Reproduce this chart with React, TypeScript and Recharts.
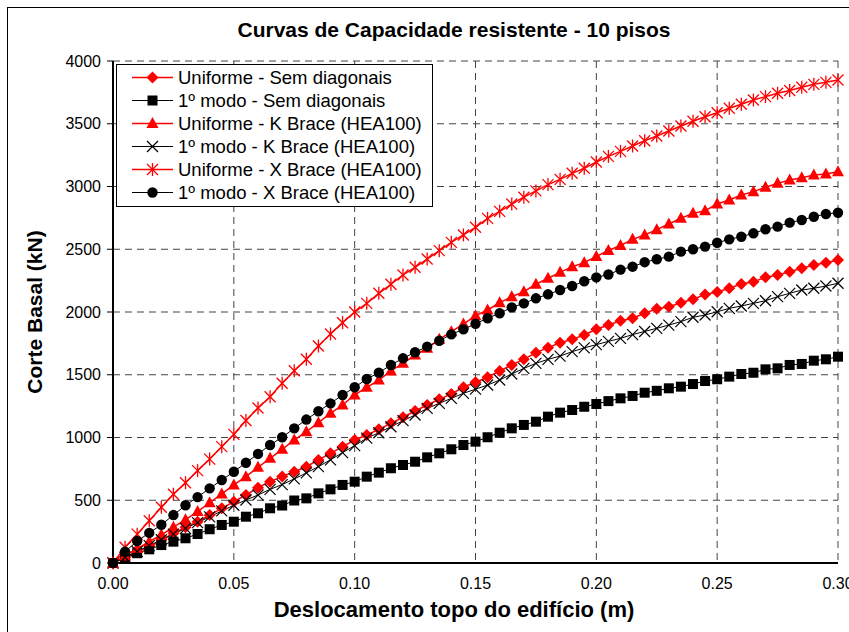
import React from "react";
import {
  LineChart,
  Line,
  XAxis,
  YAxis,
  CartesianGrid,
} from "recharts";

// deslocamento do topo (m)
const deslocamento = [
  0.0, 0.005, 0.01, 0.015, 0.02, 0.025, 0.03, 0.035, 0.04, 0.045, 0.05,
  0.055, 0.06, 0.065, 0.07, 0.075, 0.08, 0.085, 0.09, 0.095, 0.1,
  0.105, 0.11, 0.115, 0.12, 0.125, 0.13, 0.135, 0.14, 0.145, 0.15,
  0.155, 0.16, 0.165, 0.17, 0.175, 0.18, 0.185, 0.19, 0.195, 0.2,
  0.205, 0.21, 0.215, 0.22, 0.225, 0.23, 0.235, 0.24, 0.245, 0.25,
  0.255, 0.26, 0.265, 0.27, 0.275, 0.28, 0.285, 0.29, 0.295, 0.3,
];

// corte basal (kN)
const uniformeSem = [
  0, 45, 90, 130, 183, 237, 284, 329, 382, 436, 489,
  542, 600, 648, 690, 727, 767, 821, 874, 927, 980,
  1020, 1065, 1113, 1161, 1211, 1259, 1304, 1347, 1400, 1440,
  1480, 1530, 1578, 1623, 1676, 1716, 1755, 1782, 1817, 1862,
  1896, 1930, 1950, 1990, 2025, 2042, 2074, 2101, 2140, 2160,
  2189, 2223, 2241, 2276, 2295, 2321, 2348, 2374, 2393, 2414,
];
const modoSem = [
  0, 40, 78, 109, 143, 170, 197, 231, 269, 303, 329,
  369, 396, 436, 458, 498, 515, 555, 587, 622, 648,
  688, 720, 755, 781, 807, 842, 874, 906, 940, 967,
  1002, 1038, 1073, 1100, 1126, 1166, 1198, 1219, 1245, 1267,
  1290, 1312, 1331, 1357, 1372, 1392, 1405, 1426, 1450, 1464,
  1485, 1506, 1516, 1543, 1551, 1578, 1586, 1612, 1623, 1644,
];
const uniformeK = [
  0, 55, 115, 170, 225, 285, 345, 410, 480, 550, 622,
  688, 762, 834, 906, 980, 1046, 1118, 1193, 1259, 1339,
  1400, 1458, 1530, 1591, 1657, 1711, 1782, 1843, 1904, 1970,
  2016, 2074, 2122, 2162, 2221, 2269, 2316, 2361, 2393, 2443,
  2490, 2530, 2579, 2614, 2656, 2701, 2747, 2786, 2807, 2861,
  2892, 2932, 2959, 2994, 3025, 3052, 3070, 3092, 3100, 3118,
];
const modoK = [
  0, 46, 92, 138, 185, 230, 276, 322, 368, 415, 460,
  502, 542, 587, 625, 670, 718, 768, 822, 880, 935,
  995, 1038, 1086, 1134, 1179, 1232, 1272, 1312, 1352, 1385,
  1418, 1458, 1506, 1551, 1591, 1623, 1649, 1684, 1714, 1740,
  1766, 1790, 1820, 1845, 1870, 1896, 1923, 1958, 1976, 2002,
  2029, 2048, 2069, 2090, 2122, 2149, 2175, 2189, 2207, 2229,
];
const uniformeX = [
  0, 125, 230, 337, 444, 548, 640, 736, 828, 927, 1025,
  1135, 1235, 1325, 1432, 1532, 1623, 1729, 1825, 1915, 2000,
  2069, 2149, 2221, 2295, 2356, 2422, 2489, 2555, 2614, 2675,
  2746, 2802, 2860, 2915, 2965, 3015, 3057, 3105, 3145, 3195,
  3240, 3280, 3323, 3365, 3402, 3442, 3482, 3520, 3556, 3588,
  3623, 3655, 3689, 3716, 3743, 3765, 3791, 3814, 3830, 3849,
];
const modoX = [
  0, 90, 175, 240, 305, 382, 460, 525, 595, 661, 727,
  799, 869, 940, 1002, 1073, 1143, 1209, 1272, 1339, 1400,
  1466, 1516, 1578, 1631, 1679, 1724, 1771, 1822, 1862, 1906,
  1950, 1990, 2037, 2069, 2109, 2141, 2175, 2207, 2245, 2276,
  2299, 2338, 2361, 2397, 2420, 2441, 2481, 2500, 2521, 2552,
  2579, 2600, 2627, 2659, 2680, 2712, 2733, 2759, 2781, 2791,
];

const xTicks = [0, 0.05, 0.1, 0.15, 0.2, 0.25, 0.3];
const yTicks = [0, 500, 1000, 1500, 2000, 2500, 3000, 3500, 4000];

type Shape = "diamond" | "square" | "triangle" | "cross" | "star" | "circle";

const series: { key: string; name: string; color: string; shape: Shape; values: number[] }[] = [
  { key: "uSem", name: "Uniforme - Sem diagonais", color: "#ff0000", shape: "diamond", values: uniformeSem },
  { key: "mSem", name: "1º modo - Sem diagonais", color: "#000000", shape: "square", values: modoSem },
  { key: "uK", name: "Uniforme - K Brace (HEA100)", color: "#ff0000", shape: "triangle", values: uniformeK },
  { key: "mK", name: "1º modo - K Brace (HEA100)", color: "#000000", shape: "cross", values: modoK },
  { key: "uX", name: "Uniforme - X Brace (HEA100)", color: "#ff0000", shape: "star", values: uniformeX },
  { key: "mX", name: "1º modo - X Brace (HEA100)", color: "#000000", shape: "circle", values: modoX },
];

const data = deslocamento.map((x, i) => {
  const row: Record<string, number> = { x };
  series.forEach((s) => {
    row[s.key] = s.values[i];
  });
  return row;
});

const FONT = '"Liberation Sans", Arial, sans-serif';

function Marker({ cx, cy, shape, color }: { cx: number; cy: number; shape: Shape; color: string }) {
  if (cx == null || cy == null) return null;
  switch (shape) {
    case "diamond":
      return <path d={`M${cx},${cy - 6}L${cx + 6},${cy}L${cx},${cy + 6}L${cx - 6},${cy}Z`} fill={color} />;
    case "square":
      return <rect x={cx - 5} y={cy - 5} width={10} height={10} fill={color} />;
    case "triangle":
      return <path d={`M${cx},${cy - 6.5}L${cx + 6},${cy + 4.5}L${cx - 6},${cy + 4.5}Z`} fill={color} />;
    case "cross":
      return (
        <g stroke={color} strokeWidth={1.2}>
          <line x1={cx - 5.5} y1={cy - 5.5} x2={cx + 5.5} y2={cy + 5.5} />
          <line x1={cx - 5.5} y1={cy + 5.5} x2={cx + 5.5} y2={cy - 5.5} />
        </g>
      );
    case "star":
      return (
        <g stroke={color} strokeWidth={1.3}>
          <line x1={cx - 5.5} y1={cy - 5.5} x2={cx + 5.5} y2={cy + 5.5} />
          <line x1={cx - 5.5} y1={cy + 5.5} x2={cx + 5.5} y2={cy - 5.5} />
          <line x1={cx} y1={cy - 6.5} x2={cx} y2={cy + 6.5} />
        </g>
      );
    default:
      return <circle cx={cx} cy={cy} r={5.2} fill={color} />;
  }
}

function LegendBox() {
  return (
    <div
      style={{
        position: "absolute",
        left: 108,
        top: 56,
        width: 315,
        border: "1px solid #000",
        background: "#fff",
        padding: "1px 0 2px 0",
        fontFamily: FONT,
        fontSize: 18.5,
      }}
    >
      {series.map((s) => (
        <div key={s.key} style={{ display: "flex", alignItems: "center", height: 23 }}>
          <svg width={46} height={23} style={{ marginLeft: 15, flex: "none" }}>
            <line x1={0} y1={11.5} x2={41} y2={11.5} stroke={s.color} strokeWidth={s.color === "#000000" ? 1 : 1.5} />
            <Marker cx={20.5} cy={11.5} shape={s.shape} color={s.color} />
          </svg>
          <span style={{ whiteSpace: "nowrap", lineHeight: "23px" }}>{s.name}</span>
        </div>
      ))}
    </div>
  );
}

const titleStyle: React.CSSProperties = {
  position: "absolute",
  whiteSpace: "nowrap",
  fontFamily: FONT,
  fontWeight: "bold",
  lineHeight: "24px",
};

export default function App() {
  return (
    <div
      style={{
        position: "fixed",
        left: 7,
        top: 7,
        width: 842,
        height: 625,
        overflow: "hidden",
        boxSizing: "border-box",
        borderLeft: "1px solid #000",
        borderTop: "1px solid #000",
        background: "#fff",
      }}
    >
      <div style={{ position: "relative", width: 900, height: 700 }}>
        <LineChart
          width={841}
          height={624}
          data={data}
          margin={{ top: 53, right: 11, left: 45, bottom: 39 }}
        >
          <CartesianGrid stroke="#444" strokeDasharray="7 5" />
          <XAxis
            dataKey="x"
            type="number"
            domain={[0, 0.3]}
            ticks={xTicks}
            tickFormatter={(v: number) => v.toFixed(2)}
            height={30}
            tickSize={0}
            tickMargin={15}
            tickLine={false}
            axisLine={{ stroke: "#000", strokeWidth: 2 }}
            tick={{ fill: "#000", fontSize: 16, fontFamily: FONT }}
            interval={0}
          />
          <XAxis
            xAxisId="top"
            orientation="top"
            dataKey="x"
            type="number"
            domain={[0, 0.3]}
            height={0}
            tick={false}
            tickLine={false}
            axisLine={{ stroke: "#000", strokeWidth: 1.5 }}
          />
          <YAxis
            type="number"
            domain={[0, 4000]}
            ticks={yTicks}
            width={60}
            tickSize={6}
            tickMargin={6}
            tickLine={{ stroke: "#000" }}
            axisLine={{ stroke: "#000", strokeWidth: 2 }}
            tick={{ fill: "#000", fontSize: 16, fontFamily: FONT }}
            interval={0}
          />
          <YAxis
            yAxisId="right"
            orientation="right"
            type="number"
            domain={[0, 4000]}
            width={0}
            tick={false}
            tickLine={false}
            axisLine={{ stroke: "#000", strokeWidth: 1.5 }}
          />
          {series.map((s) => (
            <Line
              key={s.key}
              type="linear"
              dataKey={s.key}
              name={s.name}
              stroke={s.color}
              strokeWidth={s.color === "#000000" ? 1 : 1.5}
              isAnimationActive={false}
              activeDot={false}
              dot={(p: any) => (
                <Marker key={`${s.key}-${p.index}`} cx={p.cx} cy={p.cy} shape={s.shape} color={s.color} />
              )}
            />
          ))}
        </LineChart>
        <LegendBox />
        <div style={{ ...titleStyle, left: 446, top: 10, fontSize: 21, transform: "translateX(-50%)" }}>
          Curvas de Capacidade resistente - 10 pisos
        </div>
        <div style={{ ...titleStyle, left: 446, top: 590, fontSize: 22, transform: "translateX(-50%)" }}>
          Deslocamento topo do edifício (m)
        </div>
        <div
          style={{
            ...titleStyle,
            left: 27,
            top: 304,
            fontSize: 21,
            transform: "translate(-50%, -50%) rotate(-90deg)",
          }}
        >
          Corte Basal (kN)
        </div>
      </div>
    </div>
  );
}
